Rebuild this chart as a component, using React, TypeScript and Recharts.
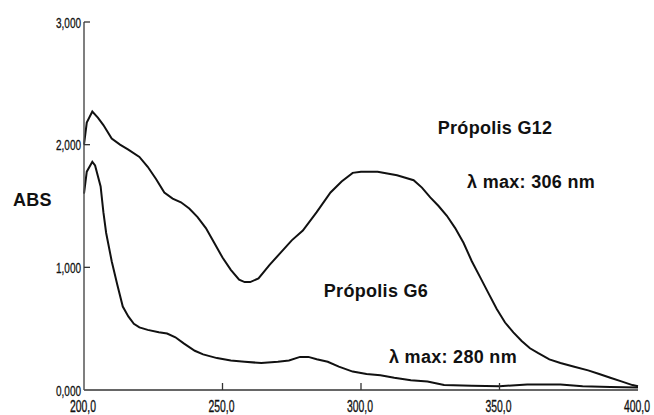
import React from 'react'
import { LineChart, Line, XAxis, YAxis, ReferenceDot, Label } from 'recharts'

// UV-Vis spectra, wavelength (nm) vs absorbance
const g12Wavelength = [200, 201, 203, 205, 207, 210, 213, 216, 220, 223, 226, 229, 232, 235, 238, 241, 244, 247, 250, 253, 256, 258, 260, 263, 267, 271, 275, 279, 284, 289, 293, 297, 300, 306, 313, 319, 322, 325, 328, 331, 334, 337, 340, 343, 346, 349, 352, 355, 358, 361, 364, 368, 372, 377, 382, 386, 390, 394, 398, 400]
const g12Abs = [2.0, 2.18, 2.27, 2.22, 2.16, 2.05, 2.0, 1.96, 1.9, 1.82, 1.72, 1.61, 1.56, 1.53, 1.48, 1.41, 1.32, 1.2, 1.08, 0.98, 0.9, 0.88, 0.88, 0.91, 1.02, 1.12, 1.22, 1.3, 1.45, 1.61, 1.7, 1.77, 1.78, 1.78, 1.75, 1.71, 1.65, 1.57, 1.5, 1.42, 1.32, 1.2, 1.05, 0.92, 0.79, 0.66, 0.55, 0.47, 0.4, 0.34, 0.3, 0.25, 0.22, 0.19, 0.16, 0.13, 0.1, 0.07, 0.04, 0.03]

const g6Wavelength = [200, 201, 203, 204, 206, 207, 208, 210, 212, 214, 216, 218, 220, 223, 227, 230, 233, 236, 240, 243, 248, 253, 258, 264, 270, 274, 278, 281, 284, 288, 292, 297, 302, 307, 312, 318, 324, 330, 340, 350, 360, 372, 380, 390, 400]
const g6Abs = [1.6, 1.78, 1.86, 1.83, 1.66, 1.45, 1.28, 1.05, 0.86, 0.68, 0.6, 0.54, 0.51, 0.49, 0.47, 0.46, 0.43, 0.38, 0.32, 0.29, 0.26, 0.24, 0.23, 0.22, 0.23, 0.24, 0.27, 0.27, 0.25, 0.23, 0.19, 0.15, 0.13, 0.12, 0.1, 0.08, 0.07, 0.04, 0.035, 0.03, 0.045, 0.045, 0.03, 0.025, 0.02]

const xTicks = [200, 250, 300, 350, 400]
const yTicks = [0, 1, 2, 3]

const g12Data = g12Wavelength.map((w, i) => ({ w, abs: g12Abs[i] }))
const g6Data = g6Wavelength.map((w, i) => ({ w, abs: g6Abs[i] }))

const tickFont = "'Liberation Sans', Arial, sans-serif"
const labelStyle = { fontFamily: tickFont, fontWeight: 700, fontSize: 18, fill: '#111', letterSpacing: 0.3 }

const XTick = (props: any) => {
  const { x, y, payload } = props
  const v = payload.value
  return (
    <g>
      {v > 200 && v < 400 && <line x1={x} x2={x} y1={y} y2={y - 7} stroke="#333" strokeWidth={1.3} />}
      <text x={x - 1} y={y + 16} textAnchor="middle" dominantBaseline="central" fontFamily={tickFont}
        fontSize={17} fill="#111" stroke="#111" strokeWidth={0.35} textLength={26} lengthAdjust="spacingAndGlyphs">
        {v.toFixed(1).replace('.', ',')}
      </text>
    </g>
  )
}

const YTick = (props: any) => {
  const { x, y, payload } = props
  const v = payload.value
  return (
    <g>
      {v > 0 && <line x1={x} x2={x + 6} y1={y} y2={y} stroke="#333" strokeWidth={1.3} />}
      <text x={x - 3} y={y} textAnchor="end" dominantBaseline="central" fontFamily={tickFont}
        fontSize={15} fill="#111" stroke="#111" strokeWidth={0.3} textLength={25} lengthAdjust="spacingAndGlyphs">
        {v.toFixed(3).replace('.', ',')}
      </text>
    </g>
  )
}

const App = () => {
  return (
    <div style={{ position: 'absolute', left: 0, top: 0, background: '#fff' }}>
      <LineChart width={654} height={415} margin={{ top: 22, right: 16, left: 0, bottom: 0 }}>
        <XAxis type="number" dataKey="w" domain={[200, 400]} ticks={xTicks} interval={0}
          tickSize={0} tickMargin={0} height={25} tick={<XTick />}
          axisLine={{ stroke: '#333', strokeWidth: 1.5 }} allowDuplicatedCategory={false} />
        <YAxis type="number" dataKey="abs" domain={[0, 3]} ticks={yTicks} interval={0}
          tickSize={0} tickMargin={0} width={84} tick={<YTick />}
          axisLine={{ stroke: '#555', strokeWidth: 1.5 }}>
          <Label value="ABS" position="insideLeft" offset={13} dy={-6} style={labelStyle} />
        </YAxis>
        <Line data={g12Data} dataKey="abs" type="linear" stroke="#111" strokeWidth={2} dot={false} isAnimationActive={false} />
        <Line data={g6Data} dataKey="abs" type="linear" stroke="#111" strokeWidth={2} dot={false} isAnimationActive={false} />
        <ReferenceDot x={348.4} y={2.137} r={0} stroke="none" label={{ value: 'Própolis G12', position: 'center', style: labelStyle }} />
        <ReferenceDot x={361.4} y={1.697} r={0} stroke="none" label={{ value: 'λ max: 306 nm', position: 'center', style: labelStyle }} />
        <ReferenceDot x={305.4} y={0.807} r={0} stroke="none" label={{ value: 'Própolis G6', position: 'center', style: labelStyle }} />
        <ReferenceDot x={333.2} y={0.269} r={0} stroke="none" label={{ value: 'λ max: 280 nm', position: 'center', style: labelStyle }} />
      </LineChart>
    </div>
  )
}

export default App
